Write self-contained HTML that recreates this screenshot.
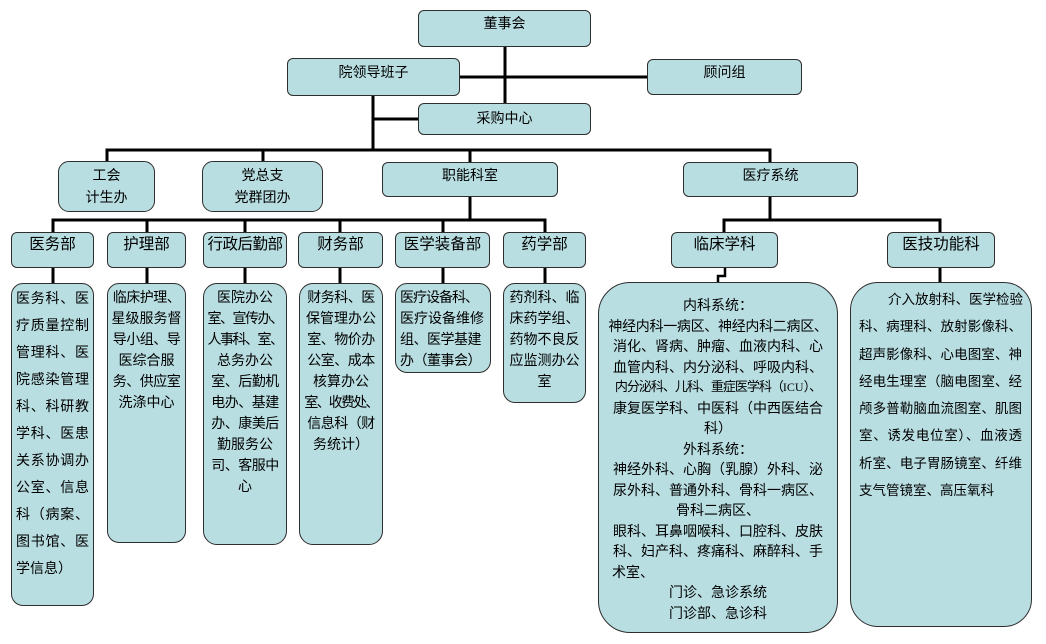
<!DOCTYPE html>
<html>
<head>
<meta charset="utf-8">
<style>
  html,body{margin:0;padding:0;background:#fff;}
  #c{position:relative;width:1046px;height:644px;overflow:hidden;background:#fff;
     font-family:"Liberation Sans","Noto Sans CJK SC",sans-serif;color:#000;}
  svg{position:absolute;left:0;top:0;}
  .b{position:absolute;box-sizing:border-box;background:#b9dee2;border:1px solid #2e2e2e;
     border-radius:6px;text-align:center;font-size:14px;line-height:18px;white-space:nowrap;}
  .l3{font-size:15.5px;line-height:20px;padding-top:2px;}
  .d{font-size:14px;line-height:21px;padding-top:3px;}
  .j div{text-align:justify;text-align-last:justify;}
  .j div.last{text-align-last:left;}
</style>
</head>
<body>
<div id="c">
<svg width="1046" height="644" viewBox="0 0 1046 644">
  <g stroke="#000" stroke-width="3" fill="none" stroke-linecap="square">
    <line x1="505" y1="47" x2="505" y2="103"/>
    <line x1="460" y1="77" x2="647" y2="77"/>
    <line x1="373" y1="96" x2="373" y2="150"/>
    <line x1="373" y1="119" x2="418" y2="119"/>
    <line x1="107" y1="150" x2="770" y2="150"/>
    <line x1="107" y1="150" x2="107" y2="162"/>
    <line x1="263" y1="150" x2="263" y2="162"/>
    <line x1="470" y1="150" x2="470" y2="162"/>
    <line x1="770" y1="150" x2="770" y2="162"/>
    <line x1="470" y1="197" x2="470" y2="220"/>
    <line x1="53" y1="220" x2="545" y2="220"/>
    <line x1="53" y1="220" x2="53" y2="232"/>
    <line x1="147" y1="220" x2="147" y2="232"/>
    <line x1="245" y1="220" x2="245" y2="232"/>
    <line x1="340" y1="220" x2="340" y2="232"/>
    <line x1="443" y1="220" x2="443" y2="232"/>
    <line x1="545" y1="220" x2="545" y2="232"/>
    <line x1="770" y1="197" x2="770" y2="220"/>
    <line x1="724" y1="220" x2="940" y2="220"/>
    <line x1="724" y1="220" x2="724" y2="232"/>
    <line x1="940" y1="220" x2="940" y2="232"/>
    <line x1="53" y1="268" x2="53" y2="283"/>
    <line x1="147" y1="268" x2="147" y2="283"/>
    <line x1="245" y1="268" x2="245" y2="283"/>
    <line x1="340" y1="268" x2="340" y2="283"/>
    <line x1="443" y1="268" x2="443" y2="283"/>
    <line x1="545" y1="268" x2="545" y2="283"/>
    <line x1="940" y1="268" x2="940" y2="282"/>
  </g>
  <polyline points="725,268 725,276 718,276 718,283" stroke="#000" stroke-width="2.5" fill="none"/>
</svg>

<!-- level 1 -->
<div class="b" style="left:418px;top:10px;width:173px;height:37px;padding-top:3px;">董事会</div>
<div class="b" style="left:287px;top:58px;width:173px;height:38px;padding-top:4px;">院领导班子</div>
<div class="b" style="left:647px;top:59px;width:155px;height:36px;padding-top:3px;">顾问组</div>
<div class="b" style="left:418px;top:103px;width:173px;height:32px;padding-top:5px;">采购中心</div>

<!-- level 2 -->
<div class="b" style="left:58px;top:161px;width:97px;height:51px;border-radius:11px;line-height:22px;padding-top:2px;">工会<br>计生办</div>
<div class="b" style="left:202px;top:161px;width:121px;height:51px;border-radius:11px;line-height:22px;padding-top:2px;">党总支<br>党群团办</div>
<div class="b" style="left:382px;top:162px;width:176px;height:35px;padding-top:3px;">职能科室</div>
<div class="b" style="left:683px;top:162px;width:175px;height:35px;padding-top:3px;">医疗系统</div>

<!-- level 3 -->
<div class="b l3" style="left:11px;top:232px;width:83px;height:36px;">医务部</div>
<div class="b l3" style="left:107px;top:232px;width:79px;height:36px;">护理部</div>
<div class="b l3" style="left:203px;top:232px;width:84px;height:36px;letter-spacing:-0.5px;">行政后勤部</div>
<div class="b l3" style="left:298px;top:232px;width:85px;height:36px;">财务部</div>
<div class="b l3" style="left:395px;top:232px;width:95px;height:36px;">医学装备部</div>
<div class="b l3" style="left:503px;top:232px;width:83px;height:36px;">药学部</div>
<div class="b l3" style="left:671px;top:232px;width:107px;height:36px;">临床学科</div>
<div class="b l3" style="left:887px;top:232px;width:108px;height:36px;">医技功能科</div>

<!-- detail boxes -->
<div class="b d j" style="left:11px;top:283px;width:83px;height:323px;border-radius:12px;line-height:27px;padding:1px 4px 0 4px;">
  <div>医务科、医</div><div>疗质量控制</div><div>管理科、医</div><div>院感染管理</div><div>科、科研教</div><div>学科、医患</div><div>关系协调办</div><div>公室、信息</div><div>科（病案、</div><div>图书馆、医</div><div class="last">学信息）</div>
</div>

<div class="b d" style="left:107px;top:283px;width:79px;height:260px;border-radius:12px;">
  <div style="letter-spacing:-0.5px">临床护理、</div><div>星级服务督</div><div style="letter-spacing:-0.5px">导小组、导</div><div>医综合服</div><div style="letter-spacing:-0.5px">务、供应室</div><div>洗涤中心</div>
</div>

<div class="b d" style="left:203px;top:283px;width:84px;height:262px;border-radius:14px;">
  <div>医院办公</div><div style="letter-spacing:-1.5px">室、宣传办、</div><div style="letter-spacing:-1.5px">人事科、室、</div><div>总务办公</div><div style="letter-spacing:-0.5px">室、后勤机</div><div style="letter-spacing:-0.5px">电办、基建</div><div style="letter-spacing:-0.5px">办、康美后</div><div>勤服务公</div><div style="letter-spacing:-0.5px">司、客服中</div><div>心</div>
</div>

<div class="b d" style="left:299px;top:283px;width:84px;height:262px;border-radius:14px;">
  <div style="letter-spacing:-0.5px">财务科、医</div><div>保管理办公</div><div style="letter-spacing:-0.5px">室、物价办</div><div style="letter-spacing:-0.5px">公室、成本</div><div>核算办公</div><div style="letter-spacing:-1.8px">室、收费处、</div><div style="letter-spacing:-0.5px">信息科（财</div><div>务统计）</div>
</div>

<div class="b d" style="left:395px;top:283px;width:96px;height:90px;border-radius:12px;text-align:left;padding-left:4px;">
  <div style="letter-spacing:-1px">医疗设备科、</div><div>医疗设备维修</div><div style="letter-spacing:-0.5px">组、医学基建</div><div style="letter-spacing:-0.5px">办（董事会）</div>
</div>

<div class="b d" style="left:503px;top:283px;width:83px;height:120px;border-radius:12px;">
  <div>药剂科、临</div><div>床药学组、</div><div>药物不良反</div><div>应监测办公</div><div>室</div>
</div>

<div class="b" style="left:598px;top:282px;width:240px;height:351px;border-radius:32px;font-size:14px;line-height:20.5px;padding-top:12px;">
  <div>内科系统：</div>
  <div style="letter-spacing:-0.3px">神经内科一病区、神经内科二病区、</div>
  <div>消化、肾病、肿瘤、血液内科、心</div>
  <div>血管内科、内分泌科、呼吸内科、</div>
  <div style="font-size:13px;letter-spacing:-1px">内分泌科、儿科、重症医学科（<span style="letter-spacing:0;font-family:'Liberation Serif',serif;font-size:12px;">ICU</span>）、</div>
  <div>康复医学科、中医科（中西医结合</div>
  <div>科）</div>
  <div>外科系统：</div>
  <div>神经外科、心胸（乳腺）外科、泌</div>
  <div>尿外科、普通外科、骨科一病区、</div>
  <div>骨科二病区、</div>
  <div>眼科、耳鼻咽喉科、口腔科、皮肤</div>
  <div>科、妇产科、疼痛科、麻醉科、手</div>
  <div style="text-align:left;padding-left:13px;">术室、</div>
  <div>门诊、急诊系统</div>
  <div>门诊部、急诊科</div>
</div>

<div class="b j" style="left:850px;top:282px;width:182px;height:345px;border-radius:28px;font-size:13.5px;line-height:27.3px;padding:3px 9px 0 8px;">
  <div style="padding-left:29px;">介入放射科、医学检验</div>
  <div>科、病理科、放射影像科、</div>
  <div>超声影像科、心电图室、神</div>
  <div>经电生理室（脑电图室、经</div>
  <div>颅多普勒脑血流图室、肌图</div>
  <div>室、诱发电位室）、血液透</div>
  <div>析室、电子胃肠镜室、纤维</div>
  <div class="last">支气管镜室、高压氧科</div>
</div>

</div>
</body>
</html>
